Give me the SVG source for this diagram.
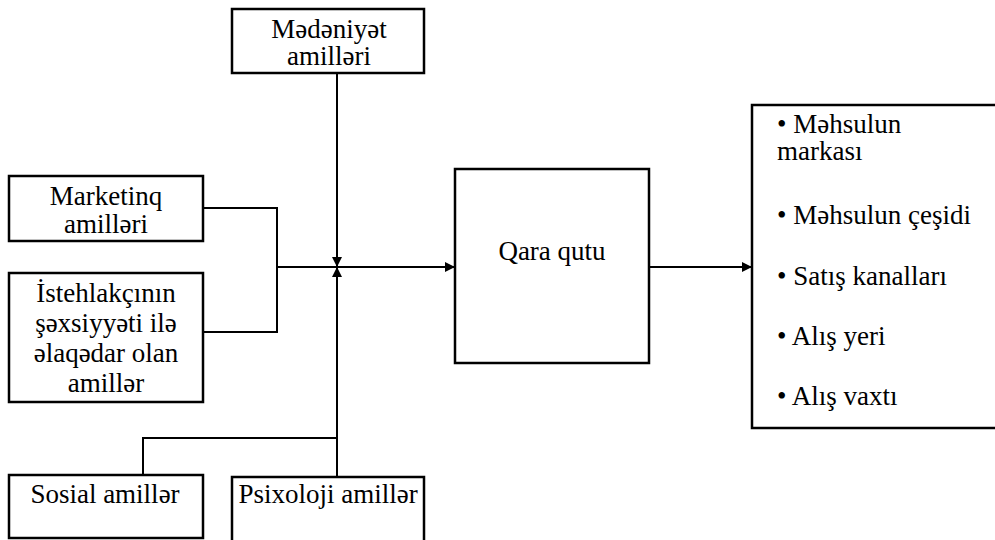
<svg xmlns="http://www.w3.org/2000/svg" width="995" height="540" viewBox="0 0 995 540">
  <style>
    .box { fill: #fff; stroke: #000; stroke-width: 2.5; }
    .wire { fill: none; stroke: #000; stroke-width: 2; }
    text { font-family: 'Times New Roman', Tinos, 'Noto Serif', 'DejaVu Serif', serif; font-size: 27px; fill: #000; }
    .c { text-anchor: middle; }
  </style>
  <defs>
    <marker id="arrow" viewBox="0 0 10 10" refX="10" refY="5" markerWidth="10" markerHeight="10" markerUnits="userSpaceOnUse" orient="auto">
      <path d="M0,0 L10,5 L0,10 Z" fill="#000"/>
    </marker>
  </defs>
  <rect width="995" height="540" fill="#fff"/>

  <!-- connectors -->
  <g id="connectors">
    <path class="wire" d="M337,73 V267" marker-end="url(#arrow)"/>
    <path class="wire" d="M337,477 V267" marker-end="url(#arrow)"/>
    <path class="wire" d="M203,208 H277 V332 H203"/>
    <path class="wire" d="M277,267 H455" marker-end="url(#arrow)"/>
    <path class="wire" d="M143,475 V438 H337"/>
    <path class="wire" d="M649,267 H752" marker-end="url(#arrow)"/>
  </g>

  <g id="medeniyyet">
    <rect class="box" x="232" y="9" width="192" height="64"/>
    <text class="c" x="329" y="38">Mədəniyət</text>
    <text class="c" x="329" y="65">amilləri</text>
  </g>

  <g id="marketinq">
    <rect class="box" x="9" y="176" width="194" height="65"/>
    <text class="c" x="106" y="205">Marketinq</text>
    <text class="c" x="106" y="233">amilləri</text>
  </g>

  <g id="istehlakci">
    <rect class="box" x="9" y="273" width="194" height="129"/>
    <text class="c" x="106" y="302">İstehlakçının</text>
    <text class="c" x="106" y="332">şəxsiyyəti ilə</text>
    <text class="c" x="106" y="362">əlaqədar olan</text>
    <text class="c" x="106" y="392">amillər</text>
  </g>

  <g id="sosial">
    <rect class="box" x="9" y="475" width="194" height="63"/>
    <text class="c" x="105" y="503">Sosial amillər</text>
  </g>

  <g id="psixoloji">
    <rect class="box" x="232" y="477" width="192" height="70"/>
    <text class="c" x="328" y="503">Psixoloji amillər</text>
  </g>

  <g id="qara-qutu">
    <rect class="box" x="455" y="169" width="194" height="194"/>
    <text class="c" x="552" y="260">Qara qutu</text>
  </g>

  <g id="neticeler">
    <rect class="box" x="752" y="105" width="260" height="323"/>
    <text x="777" y="133">• Məhsulun</text>
    <text x="777" y="160">markası</text>
    <text x="777" y="224">• Məhsulun çeşidi</text>
    <text x="777" y="285">• Satış kanalları</text>
    <text x="777" y="345">• Alış yeri</text>
    <text x="777" y="405">• Alış vaxtı</text>
  </g>
</svg>
